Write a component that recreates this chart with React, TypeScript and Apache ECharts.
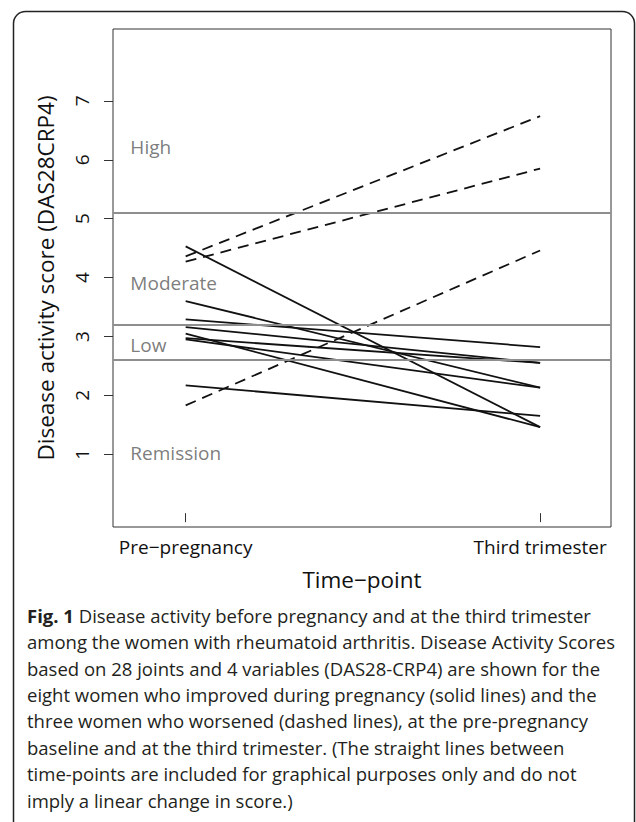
import React, { useEffect, useRef } from "react";
import * as echarts from "echarts";

// ---- data ----
const timePoints = ["Pre\u2212pregnancy", "Third trimester"];
const improvedPre = [4.53, 3.6, 3.29, 3.16, 3.05, 2.97, 2.95, 2.17];
const improvedThird = [1.46, 2.13, 2.82, 2.55, 1.46, 2.55, 2.13, 1.65];
const worsenedPre = [4.36, 4.27, 1.83];
const worsenedThird = [6.74, 5.85, 4.46];
const thresholds = [5.1, 3.2, 2.6];
const zoneNames = ["High", "Moderate", "Low", "Remission"];
const zoneLabelY = [6.22, 3.9, 2.85, 1.02];
const yTicks = [1, 2, 3, 4, 5, 6, 7];
const xTicks = [1, 2];
const captionLines = [
  "{b|Fig. 1} Disease activity before pregnancy and at the third trimester",
  "among the women with rheumatoid arthritis. Disease Activity Scores",
  "based on 28 joints and 4 variables (DAS28-CRP4) are shown for the",
  "eight women who improved during pregnancy (solid lines) and the",
  "three women who worsened (dashed lines), at the pre-pregnancy",
  "baseline and at the third trimester. (The straight lines between",
  "time-points are included for graphical purposes only and do not",
  "imply a linear change in score.)",
];

const FONT = "'Open Sans', 'Noto Sans', sans-serif";

export default function App() {
  const ref = useRef<HTMLDivElement>(null);
  useEffect(() => {
    if (!ref.current) return;
    const chart = echarts.init(ref.current, undefined, { renderer: "svg" });
    const series: any[] = [];
    improvedPre.forEach((v, i) => {
      series.push({
        type: "line",
        data: [
          [xTicks[0], v],
          [xTicks[1], improvedThird[i]],
        ],
        symbol: "none",
        silent: true,
        lineStyle: { color: "#111", width: 1.8, type: "solid" },
      });
    });
    worsenedPre.forEach((v, i) => {
      series.push({
        type: "line",
        data: [
          [xTicks[0], v],
          [xTicks[1], worsenedThird[i]],
        ],
        symbol: "none",
        silent: true,
        lineStyle: { color: "#111", width: 1.8, type: [11, 7] },
      });
    });
    series.unshift({
      type: "line",
      data: [],
      symbol: "none",
      markLine: {
        silent: true,
        symbol: "none",
        label: { show: false },
        lineStyle: { color: "#8e8e8e", width: 2, type: "solid" },
        data: thresholds.map((t) => ({ yAxis: t })),
      },
    });
    series.push({
      type: "scatter",
      symbolSize: 0,
      silent: true,
      data: zoneNames.map((n, i) => ({ name: n, value: [0.844, zoneLabelY[i]] })),
      label: {
        show: true,
        position: "right",
        distance: 0,
        formatter: "{b}",
        color: "#5a5a5a",
        fontSize: 19,
        fontFamily: FONT,
      },
    });

    chart.setOption({
      animation: false,
      backgroundColor: "#ffffff",
      grid: {
        left: 113,
        top: 29,
        right: 25,
        bottom: 295,
        show: true,
        borderColor: "#333",
        borderWidth: 1,
        backgroundColor: "transparent",
      },
      xAxis: {
        type: "value",
        min: 0.795,
        max: 2.2,
        splitLine: { show: false },
        axisLine: { show: false },
        axisTick: {
          show: true,
          customValues: xTicks,
          length: 9,
          lineStyle: { color: "#333", width: 1 },
        },
        axisLabel: {
          customValues: xTicks,
          formatter: (v: number) => timePoints[Math.round(v) - 1] ?? "",
          color: "#111",
          fontSize: 19,
          fontFamily: FONT,
          margin: 10,
        },
        name: "Time\u2212point",
        nameLocation: "middle",
        nameGap: 41,
        nameTextStyle: { color: "#111", fontSize: 22.5, fontFamily: FONT },
      },
      yAxis: {
        type: "value",
        min: -0.235,
        max: 8.22,
        splitLine: { show: false },
        axisLine: { show: false },
        axisTick: {
          show: true,
          customValues: yTicks,
          length: 9,
          lineStyle: { color: "#333", width: 1 },
        },
        axisLabel: {
          customValues: yTicks,
          rotate: 90,
          color: "#111",
          fontSize: 19,
          fontFamily: FONT,
          margin: 22,
        },
        name: "Disease activity score (DAS28CRP4)",
        nameLocation: "middle",
        nameGap: 56,
        nameRotate: 90,
        nameTextStyle: { color: "#111", fontSize: 22.5, fontFamily: FONT },
      },
      series,
      graphic: [
        {
          type: "rect",
          silent: true,
          shape: { x: 13.5, y: 11.5, width: 621, height: 900, r: 12 },
          style: { fill: "none", stroke: "#222", lineWidth: 1.5 },
        },
        {
          type: "text",
          silent: true,
          left: 27,
          top: 602,
          style: {
            text: captionLines.join("\n"),
            fill: "#231f20",
            fontSize: 18.5,
            fontFamily: FONT,
            lineHeight: 26.4,
            rich: {
              b: { fontWeight: "bold", fontSize: 18.5, fontFamily: FONT, lineHeight: 26.4, fill: "#231f20" },
            },
          },
        },
      ],
    });
    return () => chart.dispose();
  }, []);
  return (
    <div
      ref={ref}
      style={{ position: "fixed", left: 0, top: 0, width: 636, height: 822, background: "#fff" }}
    />
  );
}
